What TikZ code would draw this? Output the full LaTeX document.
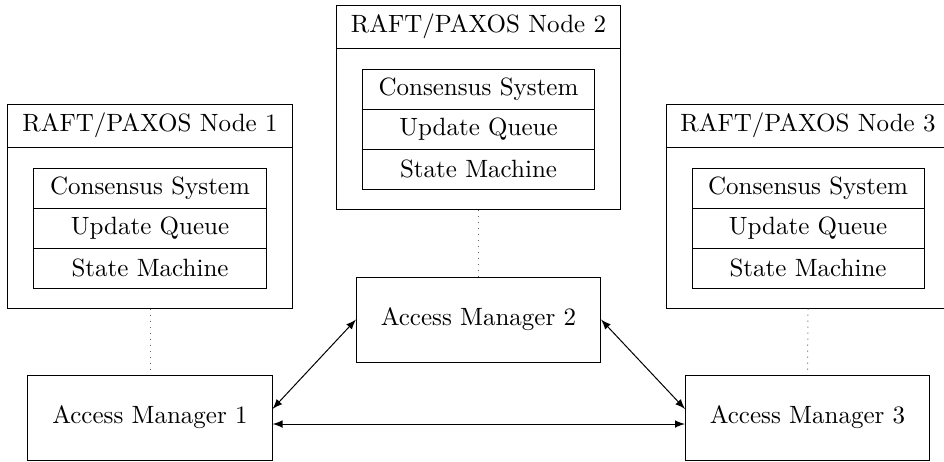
\documentclass[tikz,border=0pt]{standalone}
\usetikzlibrary{arrows}
\begin{document}
\begin{tikzpicture}[x=0.4pt,y=-0.4pt,>=latex,
  box/.style={draw, rectangle, inner sep=0pt},
  outerbox/.style={box, minimum width=113.6pt, minimum height=81.6pt},
  titlebox/.style={box, minimum width=113.6pt, minimum height=17.2pt},
  layer/.style={box, minimum width=92.8pt, minimum height=16pt},
  manager/.style={box, minimum width=97.6pt, minimum height=34pt},
  link/.style={dotted, black!60},
  conn/.style={<->}]
\useasboundingbox (0,0) rectangle (944,461);

% Node 1
\node[outerbox] (n1) at (150,206) {};
\node[titlebox] (n1t) at (150,125.5) {RAFT/PAXOS Node 1};
\node[layer] (n1a) at (150,188) {Consensus System};
\node[layer] (n1b) at (150,228) {Update Queue};
\node[layer] (n1c) at (150,268) {State Machine};

% Node 2
\node[outerbox] (n2) at (478.5,107) {};
\node[titlebox] (n2t) at (478.5,26.5) {RAFT/PAXOS Node 2};
\node[layer] (n2a) at (478.5,89) {Consensus System};
\node[layer] (n2b) at (478.5,129) {Update Queue};
\node[layer] (n2c) at (478.5,169) {State Machine};

% Node 3
\node[outerbox] (n3) at (808,206) {};
\node[titlebox] (n3t) at (808,125.5) {RAFT/PAXOS Node 3};
\node[layer] (n3a) at (808,188) {Consensus System};
\node[layer] (n3b) at (808,228) {Update Queue};
\node[layer] (n3c) at (808,268) {State Machine};

% Access managers
\node[manager] (am1) at (150,417.5) {Access Manager 1};
\node[manager] (am2) at (478.5,319.5) {Access Manager 2};
\node[manager] (am3) at (807.5,417.5) {Access Manager 3};

% Dotted links
\draw[link] (n1.south) -- (am1.north);
\draw[link] (n2.south) -- (am2.north);
\draw[link] (n3.south) -- (am3.north);

% Arrows
\draw[conn] ([yshift=3.4pt]am1.east) -- (am2.west);
\draw[conn] (am2.east) -- ([yshift=3.4pt]am3.west);
\draw[conn] ([yshift=-2.6pt]am1.east) -- ([yshift=-2.6pt]am3.west);
\end{tikzpicture}
\end{document}
